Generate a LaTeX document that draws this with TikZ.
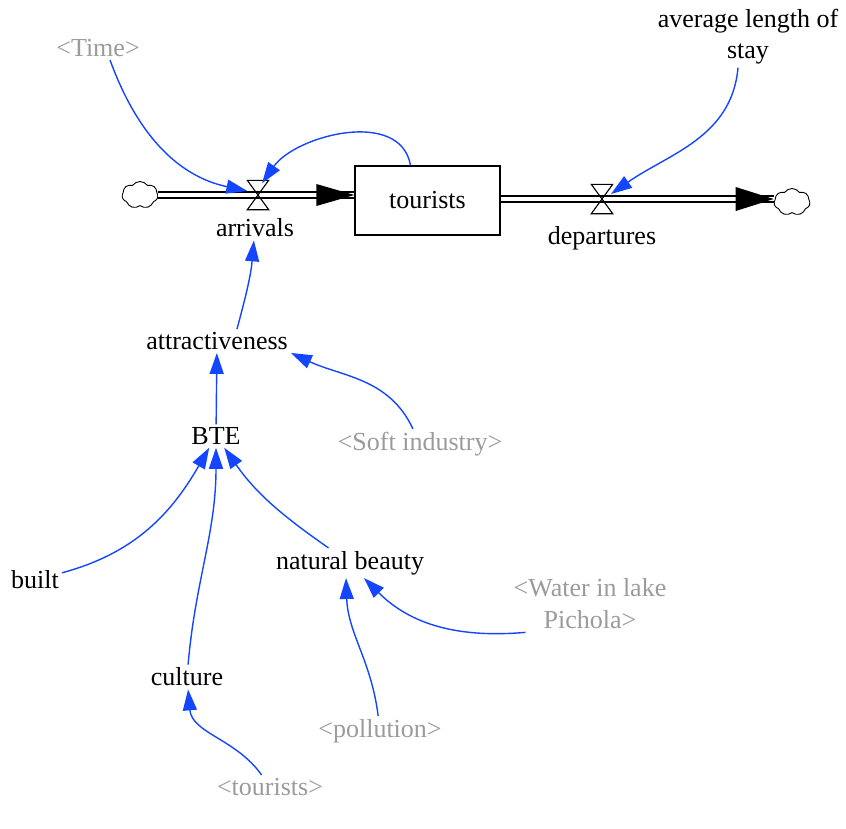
\documentclass[tikz,border=0pt]{standalone}
\usepackage{fontspec}
\setmainfont{Liberation Serif}
\usetikzlibrary{arrows.meta,positioning,shapes.symbols}
\definecolor{linkblue}{RGB}{20,70,255}
\definecolor{shadowgray}{RGB}{155,155,155}

\begin{document}
\begin{tikzpicture}[x=1pt,y=1pt,
	every node/.style={font=\fontsize{26}{31}\selectfont},
	var/.style={inner sep=3pt, align=center},
	shadowvar/.style={var, text=shadowgray},
	stock/.style={draw, line width=1.3pt, minimum width=145pt, minimum height=69pt},
	valve/.style={minimum width=21pt, minimum height=29pt, inner sep=0pt},
	sink/.style={cloud, draw, cloud puffs=7, cloud puff arc=110, cloud ignores aspect, minimum width=36pt, minimum height=27pt, inner sep=0pt, line width=0.9pt},
	pipe/.style={double, double distance=4.5pt, line width=1.5pt},
	link/.style={draw=linkblue, line width=1.4pt, -{Triangle[length=21pt,width=14pt]}}]

	\useasboundingbox (0,0) rectangle (846,-828);

	% stock and flows
	\node[stock] (tourists) at (427.5,-200.5) {tourists};
	\node[sink] (cloudL) at (140,-195) {};
	\node[sink] (cloudR) at (792,-202) {};
	\node[valve] (arrivalsV) at (258,-195) {};
	\node[valve] (departuresV) at (602,-199) {};
	\node[var] (arrivals) at (255,-228) {arrivals};
	\node[var] (departures) at (602,-238) {departures};

	\draw[pipe] (cloudL.east) -- (tourists.west |- cloudL.east);
	\fill (tourists.west |- cloudL.east) -- ++(-38,11) -- ++(0,-22) -- cycle;
	\draw[pipe] (tourists.east |- departuresV) -- (cloudR.west |- departuresV);
	\fill (cloudR.west |- departuresV) -- ++(-38,12) -- ++(0,-24) -- cycle;

	\draw[line width=1.1pt] (arrivalsV.north west) -- (arrivalsV.north east) -- (arrivalsV.south west) -- (arrivalsV.south east) -- cycle;
	\draw[line width=1.1pt] (departuresV.north west) -- (departuresV.north east) -- (departuresV.south west) -- (departuresV.south east) -- cycle;

	% auxiliaries
	\node[shadowvar] (time) at (98,-48) {<Time>};
	\node[var] (avgstay) at (748,-37) {average length of\\stay};
	\node[var] (attract) at (217,-341) {attractiveness};
	\node[shadowvar] (soft) at (420,-444) {<Soft industry>};
	\node[var] (BTE) at (216,-436) {BTE};
	\node[var] (built) at (35,-580) {built};
	\node[var] (natural) at (350,-563) {natural beauty};
	\node[shadowvar, font=\fontsize{26}{32}\selectfont] (water) at (590,-604) {<Water in lake\\Pichola>};
	\node[var] (culture) at (187,-677) {culture};
	\node[shadowvar] (pollution) at (380,-731) {<pollution>};
	\node[shadowvar] (touristsIn) at (270,-787) {<tourists>};

	% links
	\draw[link] ([xshift=12pt]time.south) to[out=-70,in=168] ([yshift=4pt]arrivalsV.west);
	\draw[link] ([xshift=-17pt]tourists.north) to[out=100,in=55] ([xshift=4pt,yshift=-3pt]arrivalsV.north);
	\draw[link] ([xshift=-10pt]avgstay.south) to[out=-95,in=35] ([xshift=9pt,yshift=5pt]departuresV.center);
	\draw[link] ([xshift=20pt]attract.north) to[out=75,in=-95] (arrivals);
	\draw[link] (BTE) -- (attract);
	\draw[link] (soft) to[out=115,in=-25] (attract.south east);
	\draw[link] (built) to[out=15,in=-120] (BTE);
	\draw[link] (culture) to[out=85,in=-90] (BTE);
	\draw[link] (natural) to[out=145,in=-55] (BTE);
	\draw[link] (pollution) to[out=97,in=-88] ([xshift=-4pt]natural.south);
	\draw[link] ([xshift=15pt]water.south west) to[out=185,in=-45] ([xshift=14pt]natural.south);
	\draw[link] (touristsIn) to[out=125,in=-85] (culture);
\end{tikzpicture}
\end{document}
